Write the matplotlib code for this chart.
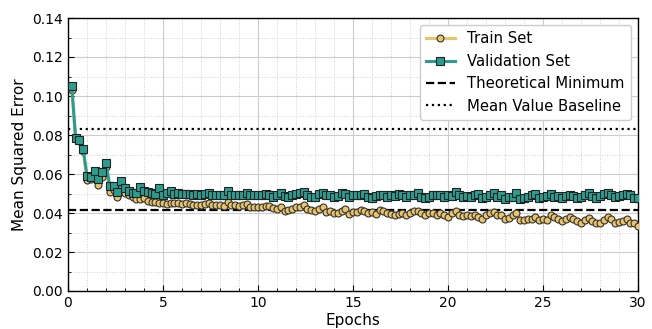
import numpy as np
import matplotlib
matplotlib.use("Agg")
import matplotlib.pyplot as plt
from matplotlib.ticker import AutoMinorLocator, MultipleLocator

epochs = [round(0.2 * i, 1) for i in range(1, 151)]

train_mse = [
    0.1031, 0.0780, 0.0770, 0.0720, 0.0569, 0.0572, 0.0595, 0.0544, 0.0586, 0.0634,
    0.0509, 0.0518, 0.0480, 0.0538, 0.0501, 0.0492, 0.0480, 0.0472,
    0.0470, 0.0475, 0.0463, 0.0458, 0.0454, 0.0450, 0.0453, 0.0444, 0.0453, 0.0450,
    0.0450, 0.0446, 0.0450, 0.0446, 0.0443, 0.0443, 0.0439, 0.0446, 0.0450,
    0.0439, 0.0443, 0.0443, 0.0436, 0.0456, 0.0439, 0.0439, 0.0436, 0.0439, 0.0446,
    0.0432, 0.0429, 0.0432, 0.0429, 0.0436, 0.0436, 0.0426, 0.0419, 0.0429,
    0.0409, 0.0415, 0.0419, 0.0429, 0.0429, 0.0439, 0.0422, 0.0415, 0.0412, 0.0422,
    0.0432, 0.0405, 0.0409, 0.0398, 0.0402, 0.0412, 0.0419, 0.0395, 0.0405,
    0.0405, 0.0415, 0.0409, 0.0398, 0.0405, 0.0395, 0.0415, 0.0409, 0.0398, 0.0395,
    0.0392, 0.0395, 0.0402, 0.0392, 0.0398, 0.0409, 0.0412, 0.0402, 0.0392,
    0.0398, 0.0402, 0.0388, 0.0398, 0.0388, 0.0381, 0.0398, 0.0412, 0.0392, 0.0385,
    0.0388, 0.0385, 0.0392, 0.0378, 0.0367, 0.0392, 0.0398, 0.0405, 0.0392,
    0.0388, 0.0367, 0.0374, 0.0392, 0.0398, 0.0364, 0.0364, 0.0371, 0.0367, 0.0381,
    0.0364, 0.0367, 0.0364, 0.0392, 0.0381, 0.0371, 0.0361, 0.0367, 0.0378,
    0.0367, 0.0361, 0.0347, 0.0364, 0.0374, 0.0361, 0.0350, 0.0347, 0.0364, 0.0378,
    0.0367, 0.0350, 0.0354, 0.0361, 0.0367, 0.0350, 0.0347, 0.0333,
]

val_mse = [
    0.1051, 0.0783, 0.0774, 0.0728, 0.0590, 0.0586, 0.0617, 0.0573, 0.0612, 0.0655,
    0.0538, 0.0538, 0.0509, 0.0566, 0.0527, 0.0514, 0.0504, 0.0504,
    0.0532, 0.0514, 0.0508, 0.0504, 0.0497, 0.0526, 0.0494, 0.0501, 0.0514, 0.0497,
    0.0501, 0.0497, 0.0497, 0.0497, 0.0494, 0.0497, 0.0494, 0.0497, 0.0501,
    0.0491, 0.0494, 0.0491, 0.0494, 0.0511, 0.0491, 0.0491, 0.0491, 0.0494, 0.0504,
    0.0494, 0.0491, 0.0491, 0.0494, 0.0497, 0.0491, 0.0480, 0.0494, 0.0501,
    0.0487, 0.0484, 0.0491, 0.0497, 0.0501, 0.0508, 0.0491, 0.0484, 0.0480, 0.0497,
    0.0501, 0.0491, 0.0494, 0.0484, 0.0487, 0.0504, 0.0497, 0.0480, 0.0491,
    0.0494, 0.0491, 0.0497, 0.0484, 0.0477, 0.0487, 0.0494, 0.0491, 0.0484, 0.0491,
    0.0487, 0.0497, 0.0491, 0.0484, 0.0491, 0.0494, 0.0504, 0.0484, 0.0477,
    0.0484, 0.0491, 0.0494, 0.0491, 0.0484, 0.0491, 0.0487, 0.0508, 0.0491, 0.0484,
    0.0487, 0.0480, 0.0494, 0.0497, 0.0477, 0.0484, 0.0491, 0.0504, 0.0484,
    0.0491, 0.0470, 0.0484, 0.0480, 0.0501, 0.0474, 0.0477, 0.0484, 0.0491, 0.0497,
    0.0477, 0.0484, 0.0487, 0.0497, 0.0484, 0.0487, 0.0477, 0.0487, 0.0494,
    0.0487, 0.0477, 0.0484, 0.0494, 0.0501, 0.0487, 0.0477, 0.0487, 0.0497, 0.0504,
    0.0491, 0.0480, 0.0487, 0.0491, 0.0497, 0.0491, 0.0477, 0.0477,
]

theoretical_min = 0.0415
mean_baseline = 0.083

train_color = "#E9C46A"
val_color = "#2A9D8F"

fig = plt.figure(figsize=(6.52, 3.29), dpi=100)
ax = fig.add_axes([68/652, 1 - 291/329, (638 - 68)/652, (291 - 18)/329])

ax.plot(epochs, train_mse, color=train_color, lw=2.2, marker="o", markersize=5,
        markerfacecolor=train_color, markeredgecolor="#333333", markeredgewidth=0.8,
        label="Train Set", zorder=3)
ax.plot(epochs, val_mse, color=val_color, lw=2.2, marker="s", markersize=5.5,
        markerfacecolor=val_color, markeredgecolor="#222222", markeredgewidth=0.8,
        label="Validation Set", zorder=3)
ax.axhline(theoretical_min, color="black", ls="--", lw=1.6, label="Theoretical Minimum", zorder=2)
ax.axhline(mean_baseline, color="black", ls=":", lw=1.6, label="Mean Value Baseline", zorder=2)

ax.set_xlim(0, 30)
ax.set_ylim(0, 0.14)
ax.xaxis.set_major_locator(MultipleLocator(5))
ax.yaxis.set_major_locator(MultipleLocator(0.02))
ax.xaxis.set_minor_locator(AutoMinorLocator(5))
ax.yaxis.set_minor_locator(AutoMinorLocator(2))
ax.yaxis.set_major_formatter(matplotlib.ticker.FormatStrFormatter("%.2f"))
ax.grid(which="major", color="#cccccc", lw=0.8, ls="-")
ax.grid(which="minor", color="#cfcfcf", lw=0.7, ls=":")
ax.set_axisbelow(True)
ax.tick_params(which="both", direction="in", labelsize=10)
ax.tick_params(which="major", length=4)
ax.tick_params(which="minor", length=2)
for s in ax.spines.values():
    s.set_color("black")
    s.set_linewidth(1)

ax.set_xlabel("Epochs", fontsize=11, labelpad=2)
ax.set_ylabel("Mean Squared Error", fontsize=11)
ax.legend(loc="upper right", fontsize=10.7, framealpha=1, edgecolor="#cccccc")

fig.savefig("out.png", dpi=100)
